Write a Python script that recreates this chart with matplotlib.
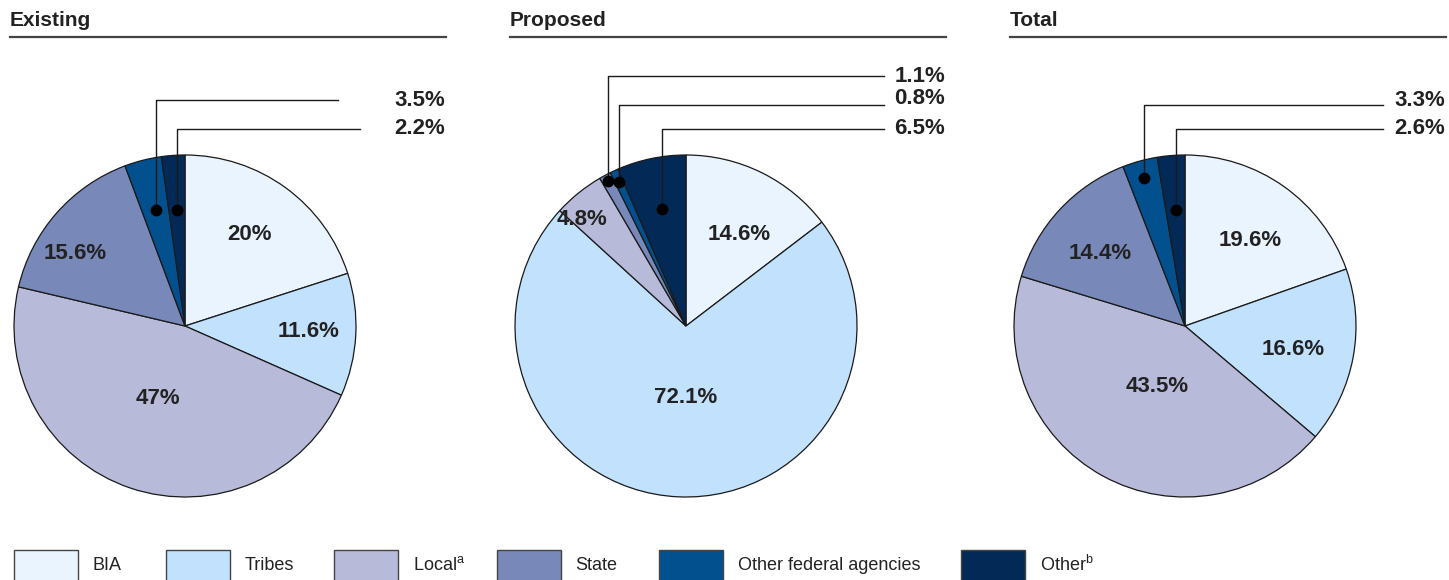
import numpy as np
import matplotlib
matplotlib.use('Agg')
import matplotlib.pyplot as plt
from matplotlib.patches import Rectangle

plt.rcParams['font.family'] = ['Liberation Sans', 'DejaVu Sans']
plt.rcParams['mathtext.fontset'] = 'custom'
plt.rcParams['mathtext.rm'] = 'Liberation Sans'

W, H = 1449, 580

# data
categories = ['BIA', 'Tribes', 'Local$^{\\mathrm{a}}$', 'State', 'Other federal agencies', 'Other$^{\\mathrm{b}}$']
colors = ['#eaf4ff', '#c2e1fd', '#b8bad9', '#7888b8', '#03508f', '#032a57']
titles = ['Existing', 'Proposed', 'Total']
existing = [20, 11.6, 47, 15.6, 3.5, 2.2]
proposed = [14.6, 72.1, 4.8, 1.1, 0.8, 6.5]
total = [19.6, 16.6, 43.5, 14.4, 3.3, 2.6]
labels_existing = ['20%', '11.6%', '47%', '15.6%', '3.5%', '2.2%']
labels_proposed = ['14.6%', '72.1%', '4.8%', '1.1%', '0.8%', '6.5%']
labels_total = ['19.6%', '16.6%', '43.5%', '14.4%', '3.3%', '2.6%']

# layout (pixel coords, y from top)
PANEL_X = [10, 510, 1010]
CENTER_X = [185, 686, 1185]
CENTER_Y = 326
R = 171
# inside labels: wedge index -> (radius fraction, angle shift deg)
INSIDE = [
    {0: (0.655, 1), 1: (0.725, 0.6), 2: (0.45, -2), 3: (0.77, 8)},
    {0: (0.62, -3.6), 1: (0.42, 2.3), 2: (0.87, 5.3)},
    {0: (0.63, -1.8), 1: (0.65, -2), 2: (0.39, 4), 3: (0.655, 2.2)},
]
# leader callouts: wedge index, dot radius frac, line y, label y
LEADERS = [
    [(4, 0.70, 100, 100), (5, 0.68, 129, 129)],
    [(3, 0.96, 76, 77), (4, 0.93, 105, 99), (5, 0.70, 129, 129)],
    [(4, 0.90, 105, 100), (5, 0.68, 129, 129)],
]
LINE_END = [[338, 360], [884, 884, 884], [1383, 1383]]
LEGEND_BOX_X = [14, 166, 334, 497, 659, 961]
LEGEND_TEXT_X = [93, 245, 413, 575, 738, 1040]

TXT = '#222222'

fig = plt.figure(figsize=(W / 100, H / 100), dpi=100)
ax = fig.add_axes([0, 0, 1, 1])
ax.axis('off')


def fy(py):
    return H - py


series = [existing, proposed, total]
all_labels = [labels_existing, labels_proposed, labels_total]

for i in range(3):
    vals = series[i]
    labs = all_labels[i]
    cx, cy = CENTER_X[i], fy(CENTER_Y)

    # title + rule
    ax.text(PANEL_X[i], fy(20), titles[i], fontsize=15, fontweight='bold',
            color=TXT, ha='left', va='center')
    ax.plot([PANEL_X[i], PANEL_X[i] + 436], [fy(37), fy(37)], color='#444444', lw=1.6)

    wedges, _ = ax.pie(vals, colors=colors, startangle=90, counterclock=False,
                       center=(cx, cy), radius=R,
                       wedgeprops=dict(edgecolor='#1a1a1a', linewidth=0.9))

    def mid_angle(k):
        w = wedges[k]
        return np.deg2rad((w.theta1 + w.theta2) / 2)

    for k, (rf, shift) in INSIDE[i].items():
        a = mid_angle(k) + np.deg2rad(shift)
        ax.text(cx + rf * R * np.cos(a), cy + rf * R * np.sin(a), labs[k],
                fontsize=16, fontweight='bold', color=TXT, ha='center', va='center')

    for j, (k, rf, ly, ty) in enumerate(LEADERS[i]):
        a = mid_angle(k)
        dx = cx + rf * R * np.cos(a)
        dy = cy + rf * R * np.sin(a)
        ax.plot([dx, dx, LINE_END[i][j]], [dy, fy(ly), fy(ly)], color='#1a1a1a', lw=1.0)
        ax.plot(dx, dy, 'o', color='black', markersize=7.5)
        ax.text(PANEL_X[i] + 435, fy(ty), labs[k], fontsize=16, fontweight='bold',
                color=TXT, ha='right', va='center')

ax.set_xlim(0, W)
ax.set_ylim(0, H)
ax.set_aspect('auto')

# legend
for k in range(len(categories)):
    ax.add_patch(Rectangle((LEGEND_BOX_X[k], fy(595)), 64, 45, facecolor=colors[k],
                           edgecolor='#444444', lw=1.0, clip_on=True))
    ax.text(LEGEND_TEXT_X[k], fy(565), categories[k], fontsize=13, color=TXT,
            ha='left', va='center')

fig.savefig('out.png', dpi=100)
